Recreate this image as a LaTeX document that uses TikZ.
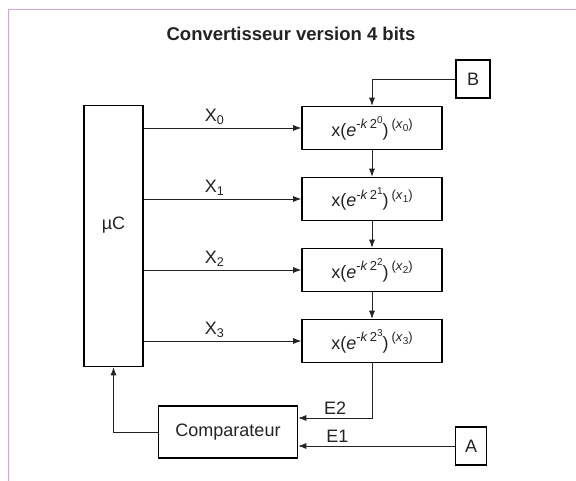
\documentclass[tikz,border=0pt]{standalone}
\usepackage{fontspec}
\setmainfont{Liberation Sans}
\usetikzlibrary{arrows.meta}
\definecolor{cadre}{RGB}{214,165,214}
\definecolor{encre}{RGB}{35,35,35}

\newcommand{\haut}[1]{\raisebox{0.42em}{\fontsize{13}{13}\selectfont #1}}
\newcommand{\bas}[1]{\raisebox{-0.25em}{\fontsize{10}{10}\selectfont #1}}
\newcommand{\etage}[1]{x(\textit{e}\haut{-\textit{k}\,2\raisebox{0.4em}{\fontsize{10}{10}\selectfont #1}})\,\haut{(\textit{x}\bas{#1})}}

\begin{document}
\begin{tikzpicture}[x=1pt,y=-1pt,
    bloc/.style={draw=black, line width=1.6pt, inner sep=0pt},
    fleche/.style={draw=encre, line width=0.8pt, -{Latex[length=8pt,width=6pt]}},
    font=\fontsize{18}{21}\selectfont, text=encre]
    \useasboundingbox (0,0) rectangle (576,481);
    \draw[cadre, line width=1pt] (8.5,481) -- (8.5,9.5) -- (576,9.5);

    \node[font=\bfseries\fontsize{18.5}{22}\selectfont] (titre) at (291,34) {Convertisseur version 4 bits};
    \node[bloc, minimum width=59pt, minimum height=261pt, label={[yshift=11pt]center:µC}] (uc) at (113.5,236) {};

    % etages du convertisseur
    \foreach \i/\y in {0/128,1/199,2/270,3/341} {
        \node[bloc, minimum width=140pt, minimum height=43pt] (etage\i) at (372,\y) {\etage{\i}};
        \draw[fleche] (uc.east |- etage\i.west) -- node[above, pos=0.45] {X\textsubscript{\i}} (etage\i.west);
    }
    \foreach \i/\j in {0/1,1/2,2/3}
        \draw[fleche] (etage\i.south) -- (etage\j.north);

    \node[bloc, minimum width=34pt, minimum height=38pt] (B) at (473,79) {B};
    \draw[fleche] (B.west) -| (etage0.north);

    \node[bloc, minimum width=139pt, minimum height=52pt] (comp) at (228,432) {Comparateur};
    \node[bloc, minimum width=31pt, minimum height=38pt] (A) at (471,446) {A};

    \draw[fleche] (etage3.south) |- node[above, pos=0.75] {E2} ([yshift=14pt]comp.east);
    \draw[fleche] (A.west) -- node[above, pos=0.75] {E1} (A.west -| comp.east);
    \draw[fleche] (comp.west) -| (uc.south);
\end{tikzpicture}
\end{document}
